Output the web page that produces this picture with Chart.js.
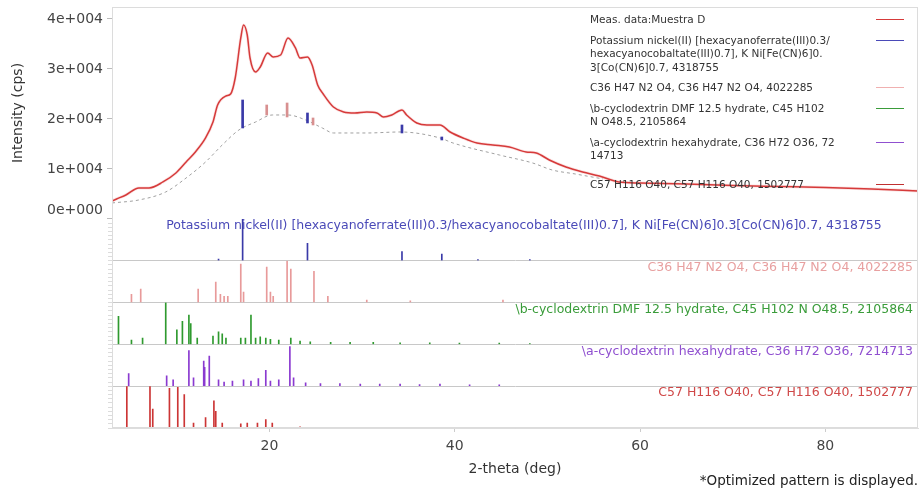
<!DOCTYPE html>
<html>
<head>
<meta charset="utf-8">
<script src="https://cdn.jsdelivr.net/npm/chart.js@4.4.1/dist/chart.umd.min.js"></script>
<style>
  body { margin: 0; background: #fff; font-family: "DejaVu Sans", sans-serif; }
  #wrap { position: relative; width: 924px; height: 490px; }
  #legend { position: absolute; left: 590px; top: 13px; width: 320px; font-size: 10.5px; line-height: 13.5px; color: #333; }
  #legend .item { position: relative; margin-bottom: 7px; padding-right: 40px; }
  #legend .item.last { margin-top: 15px; }
  #legend .sample { position: absolute; right: 6px; top: 6px; width: 28px; height: 0; border-top: 1.5px solid; }
  #note { position: absolute; right: 6px; top: 472px; font-size: 13.5px; color: #222; }
</style>
</head>
<body>
<div id="wrap">
  <canvas id="chart" width="924" height="490"></canvas>
  <div id="legend"></div>
  <div id="note">*Optimized pattern is displayed.</div>
</div>
<script>
// Datos medidos (2-theta, cps)
const measTheta = [3, 3.5, 4.5, 5.9, 7.0, 8.5, 9.9, 11.0, 12.0, 13.1, 13.9, 14.4, 15.3, 15.8, 16.3, 16.9, 17.2, 17.6, 17.9, 18.5, 19.0, 19.8, 20.4, 21.2, 22.0, 22.8, 23.3, 24.1, 24.6, 25.2, 25.8, 26.9, 28.0, 29.2, 30.5, 31.6, 32.3, 33.2, 34.3, 34.8, 35.9, 37.0, 38.4, 39.5, 40.9, 42.4, 44.1, 45.9, 47.7, 48.8, 50.2, 52.0, 53.8, 55.6, 57.7, 60, 65, 70, 75, 80, 85, 90];
const measI = [3600, 4000, 4800, 6200, 6200, 7400, 9200, 11400, 13400, 16200, 19400, 22800, 24600, 25000, 28200, 36200, 38800, 36800, 32200, 29400, 30400, 33200, 32400, 32800, 36200, 34200, 32200, 32400, 30800, 26800, 25000, 22400, 21400, 21200, 21400, 21200, 20400, 20800, 21800, 20800, 19200, 18800, 18800, 17400, 16200, 15200, 14800, 14400, 13400, 13200, 11800, 10400, 9400, 8600, 7400, 7200, 7000, 6700, 6500, 6300, 6000, 5600];

// Fondo (linea punteada)
const bgTheta = [3, 5.9, 8.8, 11, 13.1, 14.9, 16.7, 18.5, 20.3, 22, 23.9, 25.7, 26.9, 30.5, 34.1, 38.4, 39.8, 44.8, 48.4, 50.5, 53, 56];
const bgI = [3200, 3800, 5400, 8200, 11400, 14800, 17800, 19400, 20800, 20800, 19800, 18200, 17200, 17200, 17400, 16200, 15200, 12800, 11200, 9800, 9000, 8000];

// Barras sobre el fondo en el panel principal
const blueMarkTheta = [17.1, 24.1, 34.3, 38.6];
const blueMarkLo = [18200, 19200, 17200, 15800];
const blueMarkHi = [23800, 21200, 18800, 16400];
const pinkMarkTheta = [19.7, 21.9, 24.7];
const pinkMarkLo = [20800, 20400, 18800];
const pinkMarkHi = [22800, 23200, 20200];

// Paneles de referencia (posicion, intensidad relativa)
const p1Theta = [14.5, 17.1, 24.1, 34.3, 38.6, 42.5, 48.1];
const p1Height = [4, 100, 42, 22, 16, 3, 3];

const p2Theta = [5.1, 6.1, 12.3, 14.2, 14.7, 15.1, 15.5, 16.9, 17.2, 19.7, 20.1, 20.4, 21.9, 22.3, 24.8, 26.3, 30.5, 35.2, 45.2];
const p2Height = [20, 32, 32, 49, 20, 15, 15, 92, 25, 85, 25, 15, 100, 80, 75, 15, 6, 4, 6];

const p3Theta = [3.7, 5.1, 6.3, 8.8, 10.0, 10.6, 11.3, 11.5, 12.2, 13.9, 14.5, 14.9, 15.3, 16.9, 17.4, 18.0, 18.5, 19.0, 19.6, 20.1, 21.0, 22.3, 23.3, 24.4, 26.6, 28.7, 31.2, 34.1, 37.3, 40.5, 44.8, 48.1];
const p3Height = [67, 10, 15, 100, 35, 55, 70, 50, 15, 20, 30, 25, 15, 15, 15, 70, 15, 18, 15, 12, 10, 15, 8, 6, 5, 5, 5, 4, 4, 3, 3, 2];

const p4Theta = [4.8, 8.9, 9.6, 11.3, 11.8, 12.9, 13.0, 13.5, 14.5, 15.1, 16.0, 17.2, 18.0, 18.8, 19.6, 20.1, 21.0, 22.2, 22.6, 23.9, 25.5, 27.6, 29.8, 31.9, 34.1, 36.2, 38.4, 41.6, 44.8];
const p4Height = [30, 25, 15, 85, 20, 60, 45, 72, 15, 10, 12, 15, 12, 18, 38, 12, 15, 95, 20, 8, 6, 6, 5, 5, 5, 4, 5, 3, 3];

const p5Theta = [4.6, 7.1, 7.4, 9.2, 10.1, 10.8, 11.8, 13.1, 14.0, 14.2, 14.9, 16.9, 17.6, 18.7, 19.6, 20.3, 23.3];
const p5Height = [100, 100, 45, 95, 97, 80, 12, 25, 65, 40, 12, 10, 12, 12, 20, 12, 3];

const phaseNames = [
  'Potassium nickel(II) [hexacyanoferrate(III)0.3/hexacyanocobaltate(III)0.7], K Ni[Fe(CN)6]0.3[Co(CN)6]0.7, 4318755',
  'C36 H47 N2 O4, C36 H47 N2 O4, 4022285',
  '\\b-cyclodextrin DMF 12.5 hydrate, C45 H102 N O48.5, 2105864',
  '\\a-cyclodextrin hexahydrate, C36 H72 O36, 7214713',
  'C57 H116 O40, C57 H116 O40, 1502777'
];
const legendNames = [
  'Meas. data:Muestra D',
  'Potassium nickel(II) [hexacyanoferrate(III)0.3/<br>hexacyanocobaltate(III)0.7], K Ni[Fe(CN)6]0.<br>3[Co(CN)6]0.7, 4318755',
  'C36 H47 N2 O4, C36 H47 N2 O4, 4022285',
  '\\b-cyclodextrin DMF 12.5 hydrate, C45 H102<br>N O48.5, 2105864',
  '\\a-cyclodextrin hexahydrate, C36 H72 O36, 72<br>14713',
  'C57 H116 O40, C57 H116 O40, 1502777'
];

const xTicks = [20, 40, 60, 80];
const yTicks = [0, 10000, 20000, 30000, 40000];

const phaseColors = ['#3a3aa8', '#e89a9a', '#2f9a2f', '#8a3ad0', '#cc3535'];
const labelColors = ['#4a4ab8', '#e8a0a0', '#3a9c3a', '#9050d0', '#d04848'];
const legendColors = ['#d63a3a', '#4a4ab8', '#f0b0b0', '#3a9c3a', '#9050d0', '#c03030'];

Chart.defaults.font.family = '"DejaVu Sans", sans-serif';
Chart.defaults.font.size = 14;
Chart.defaults.color = '#444';

const toXY = (xs, ys) => xs.map((x, i) => ({ x: x, y: ys[i] }));
const toRange = (xs, lo, hi) => xs.map((x, i) => ({ x: x, y: [lo[i], hi[i]] }));

const panels = [
  { id: 'p1', theta: p1Theta, h: p1Height },
  { id: 'p2', theta: p2Theta, h: p2Height },
  { id: 'p3', theta: p3Theta, h: p3Height },
  { id: 'p4', theta: p4Theta, h: p4Height },
  { id: 'p5', theta: p5Theta, h: p5Height }
];

const datasets = [
  { type: 'line', data: toXY(measTheta, measI), yAxisID: 'y', borderColor: '#d63a3a', borderWidth: 1.5,
    pointRadius: 0, cubicInterpolationMode: 'monotone', order: 1 },
  { type: 'line', data: toXY(measTheta, measI), yAxisID: 'y', borderColor: 'rgba(240,160,160,0.3)', borderWidth: 3,
    pointRadius: 0, cubicInterpolationMode: 'monotone', order: 3 },
  { type: 'line', data: toXY(bgTheta, bgI), yAxisID: 'y', borderColor: '#a0a0a0', borderWidth: 1,
    borderDash: [3, 3], pointRadius: 0, cubicInterpolationMode: 'monotone', order: 2 },
  { type: 'bar', data: toRange(blueMarkTheta, blueMarkLo, blueMarkHi), yAxisID: 'y', backgroundColor: '#3a3aa8',
    barThickness: 2, grouped: false, order: 0 },
  { type: 'bar', data: toRange(pinkMarkTheta, pinkMarkLo, pinkMarkHi), yAxisID: 'y', backgroundColor: '#d89090',
    barThickness: 2, grouped: false, order: 0 }
];
panels.forEach((p, i) => {
  datasets.push({ type: 'bar', data: toXY(p.theta, p.h), yAxisID: p.id, backgroundColor: phaseColors[i],
    barThickness: 1, grouped: false, order: 0 });
});

// los ejes apilados se colocan de abajo hacia arriba: paneles primero (p5..p1), luego el principal
const scales = {
  x: {
    type: 'linear', min: 3, max: 90, offset: false,
    afterBuildTicks: s => { s.ticks = xTicks.map(v => ({ value: v })); },
    afterFit: s => { s.height = 62; },
    grid: { drawOnChartArea: false, offset: false, tickLength: 4, tickColor: '#ccc' },
    border: { color: '#ddd' },
    ticks: { padding: 6, color: '#444' },
    title: { display: true, text: '2-theta (deg)', color: '#333', padding: { top: 4, bottom: 12 } }
  }
};
panels.slice().reverse().forEach(p => {
  scales[p.id] = {
    axis: 'y', position: 'left', stack: 'pat', stackWeight: 1, min: 0, max: 100,
    afterBuildTicks: s => { s.ticks = [0, 10, 20, 30, 40, 50, 60, 70, 80, 90].map(v => ({ value: v })); },
    afterFit: s => { s.width = 20; s.paddingTop = 0; s.paddingBottom = 0; },
    grid: {
      color: ctx => ctx.tick && ctx.tick.value === 0 ? '#c8c8c8' : 'rgba(0,0,0,0)',
      tickColor: '#dcdcdc', tickLength: 4
    },
    border: { color: '#ddd' },
    ticks: { display: false }
  };
});
scales.y = {
  axis: 'y', position: 'left', stack: 'pat', stackWeight: 5.07, min: 0, max: 42400,
  afterBuildTicks: s => { s.ticks = yTicks.map(v => ({ value: v })); },
  afterFit: s => { s.width = 112; s.paddingTop = 0; s.paddingBottom = 0; },
  grid: { drawOnChartArea: false, tickLength: 5, tickColor: '#bbb' },
  border: { color: '#ddd' },
  // el rotulo del cero se sube media linea, como en el original
  ticks: { padding: 4, color: '#444', autoSkip: false,
    callback: v => v === 0 ? ['0e+000', ''] : (v / 10000) + 'e+004' },
  title: { display: true, text: 'Intensity (cps)', color: '#333', padding: { top: 10, bottom: 0 } }
};

// Marco del area de grafico y rotulos de cada panel
const framePlugin = {
  id: 'frame',
  afterDatasetsDraw(chart) {
    const { ctx, chartArea } = chart;
    ctx.save();
    ctx.strokeStyle = '#dcdcdc';
    ctx.lineWidth = 1;
    ctx.strokeRect(chartArea.left + 0.5, chartArea.top + 0.5, chartArea.width - 1, chartArea.height - 1);
    ctx.font = '12.5px "DejaVu Sans", sans-serif';
    ctx.textBaseline = 'middle';
    panels.forEach((p, i) => {
      const sc = chart.scales[p.id];
      ctx.fillStyle = labelColors[i];
      if (i === 0) {
        ctx.textAlign = 'center';
        ctx.fillText(phaseNames[i], (chartArea.left + chartArea.right) / 2 + 9, sc.top + 7);
      } else {
        ctx.textAlign = 'right';
        ctx.fillText(phaseNames[i], chartArea.right - 5, sc.top + 7);
      }
    });
    ctx.restore();
  }
};

new Chart(document.getElementById('chart'), {
  type: 'line',
  data: { datasets: datasets },
  options: {
    responsive: false,
    animation: false,
    layout: { padding: { top: 7, right: 6, left: 0, bottom: 0 } },
    plugins: { legend: { display: false }, tooltip: { enabled: false } },
    scales: scales
  },
  plugins: [framePlugin]
});

// Leyenda con muestra de linea a la derecha
const legendEl = document.getElementById('legend');
legendNames.forEach((name, i) => {
  const item = document.createElement('div');
  item.className = 'item' + (i === legendNames.length - 1 ? ' last' : '');
  item.innerHTML = name + '<span class="sample" style="border-color:' + legendColors[i] + '"></span>';
  legendEl.appendChild(item);
});
</script>
</body>
</html>
